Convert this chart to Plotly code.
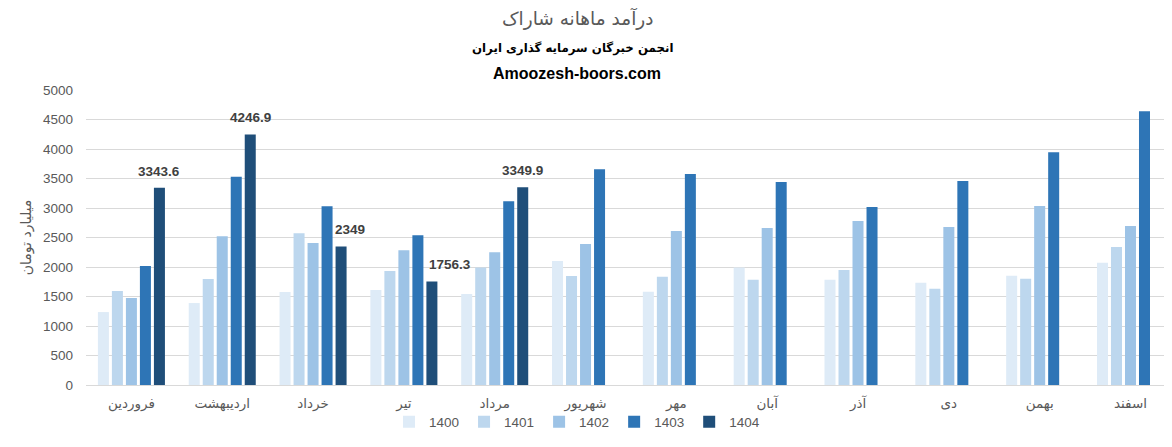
import plotly.graph_objects as go

months = ["فروردین", "اردیبهشت", "خرداد", "تیر", "مرداد", "شهریور",
          "مهر", "آبان", "آذر", "دی", "بهمن", "اسفند"]
years = ["1400", "1401", "1402", "1403", "1404"]

v1400 = [1236, 1389, 1575, 1609, 1541, 2100, 1579, 1991, 1782, 1731, 1850, 2070]
v1401 = [1592, 1795, 2574, 1931, 1993, 1846, 1833, 1782, 1951, 1630, 1799, 2340]
v1402 = [1473, 2523, 2405, 2286, 2252, 2388, 2611, 2662, 2780, 2679, 3034, 2695]
v1403 = [2015, 3528, 3031, 2540, 3116, 3658, 3575, 3440, 3017, 3457, 3947, 4641]
v1404 = [3343.6, 4246.9, 2349, 1756.3, 3349.9, None, None, None, None, None, None, None]

series = [v1400, v1401, v1402, v1403, v1404]
colors = ["#deebf7", "#bdd7ee", "#9dc3e6", "#2e75b6", "#1f4e79"]

FONT = "Liberation Sans, DejaVu Sans, sans-serif"
GRAY = "#595959"

# page has an 8px body margin; figure is sized to fit the window
OFF = 8
W, H = 1172 - OFF, 447 - OFF
L, R, T, B = 86 - OFF, 0, 90 - OFF, 62
pw, ph = W - L - R, H - T - B


def px(xp):  # page x -> paper x
    return (xp - OFF - L) / pw


def py(yp):  # page y -> paper y
    return (H - (yp - OFF) - B) / ph


fig = go.Figure()
for name, vals, col in zip(years, series, colors):
    fig.add_trace(go.Bar(name=name, x=months, y=vals, marker_color=col,
                         marker_line_width=0, hoverinfo="x+y"))

# data labels for the last series
label_extra = [0, 0, 9, 18, 0]
annotations = []
for i, v in enumerate(v1404):
    if v is None:
        continue
    annotations.append(dict(
        x=months[i], y=v, xref="x", yref="y", text=f"<b>{v:g}</b>",
        showarrow=False, xanchor="center", yanchor="bottom",
        xshift=28 + label_extra[i], yshift=7,
        font=dict(family=FONT, size=13.5, color="#404040")))

titles = [
    ("درآمد ماهانه شاراک", 577, 18, dict(family="DejaVu Sans", size=18.5, color=GRAY)),
    ("<b>انجمن خبرگان سرمایه گذاری ایران</b>", 572, 49,
     dict(family="DejaVu Sans", size=11.8, color="#000000")),
    ("<b>Amoozesh-boors.com</b>", 577, 73, dict(family=FONT, size=16, color="#000000")),
]
for text, xp, yp, f in titles:
    annotations.append(dict(text=text, x=px(xp), y=py(yp), xref="paper", yref="paper",
                            xanchor="center", yanchor="middle", showarrow=False, font=f))

fig.update_layout(
    width=W, height=H,
    margin=dict(l=L, r=R, t=T, b=B, pad=0),
    paper_bgcolor="white", plot_bgcolor="white",
    barmode="group", bargap=0.229, bargroupgap=0.214,
    font=dict(family=FONT, color=GRAY),
    annotations=annotations,
    showlegend=True,
    legend=dict(orientation="h", x=px(577), y=py(422),
                xanchor="center", yanchor="middle",
                bgcolor="rgba(0,0,0,0)",
                font=dict(family=FONT, size=13.5, color=GRAY),
                itemwidth=30, traceorder="normal"),
    xaxis=dict(type="category", range=[-0.5, 11.457],
               showline=True, linecolor="#d9d9d9", linewidth=1,
               showgrid=False, ticks="", zeroline=False,
               ticklabelstandoff=6,
               tickfont=dict(family="DejaVu Sans", size=13.5, color=GRAY)),
    yaxis=dict(range=[0, 5000], dtick=500, tick0=0,
               showgrid=True, gridcolor="#d9d9d9", gridwidth=1,
               zeroline=False, showline=False, ticks="",
               ticklabelstandoff=12,
               tickfont=dict(family=FONT, size=13.5, color=GRAY),
               title=dict(text="میلیارد تومان", standoff=8,
                          font=dict(family="DejaVu Sans", size=14, color=GRAY))),
)

fig.write_html("out.html")
